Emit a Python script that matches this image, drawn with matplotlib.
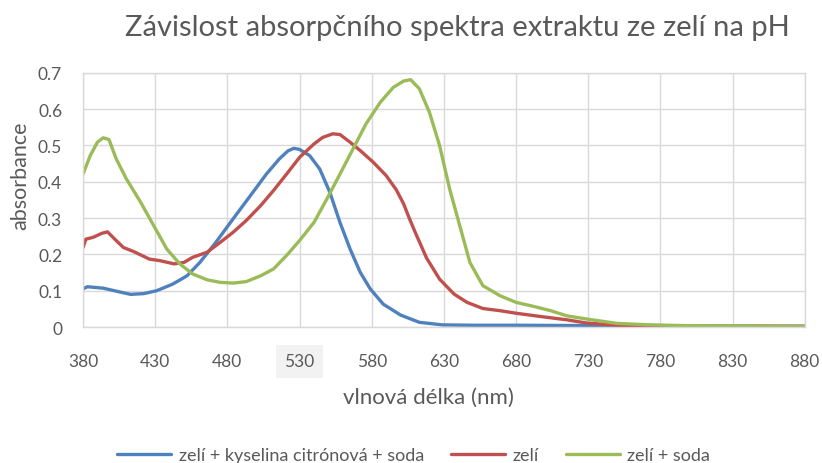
import numpy as np
import matplotlib
matplotlib.use('Agg')
import matplotlib.pyplot as plt

plt.rcParams['font.family'] = ['Lato', 'DejaVu Sans']

# spectra (wavelength nm, absorbance)
wl_blue = [380, 383, 394, 405, 413, 422, 431, 442, 452, 461, 472, 484, 496, 507, 516,
           522, 526, 530, 537, 544, 551, 558, 565, 572, 579, 588, 600, 613, 629, 650,
           680, 730, 780, 830, 880]
abs_blue = [0.105, 0.111, 0.107, 0.097, 0.090, 0.092, 0.100, 0.118, 0.141, 0.178, 0.233,
            0.298, 0.362, 0.421, 0.463, 0.485, 0.492, 0.489, 0.472, 0.435, 0.371, 0.288,
            0.215, 0.151, 0.105, 0.063, 0.033, 0.013, 0.006, 0.005, 0.005, 0.004, 0.002,
            0.002, 0.002]

wl_red = [380, 382, 387, 393, 397, 403, 408, 415, 426, 433, 443, 450, 456, 466, 475, 484,
          493, 503, 512, 521, 530, 540, 546, 553, 558, 565, 572, 581, 590, 597, 602, 606,
          610, 618, 627, 637, 646, 657, 669, 680, 697, 715, 729, 750, 800, 880]
abs_red = [0.219, 0.242, 0.247, 0.258, 0.262, 0.238, 0.219, 0.208, 0.187, 0.183, 0.174,
           0.178, 0.192, 0.206, 0.233, 0.261, 0.293, 0.334, 0.376, 0.421, 0.467, 0.504,
           0.522, 0.532, 0.530, 0.509, 0.486, 0.454, 0.417, 0.378, 0.340, 0.300, 0.262,
           0.190, 0.132, 0.091, 0.068, 0.051, 0.045, 0.038, 0.029, 0.020, 0.011, 0.005,
           0.003, 0.002]

wl_green = [380, 385, 390, 394, 398, 403, 410, 420, 429, 438, 447, 456, 466, 475, 484, 493,
            503, 512, 521, 530, 540, 549, 558, 567, 576, 586, 595, 602, 607, 613, 620, 627,
            634, 641, 648, 657, 669, 680, 692, 704, 715, 729, 750, 773, 796, 840, 880]
abs_green = [0.421, 0.472, 0.509, 0.521, 0.516, 0.463, 0.408, 0.343, 0.279, 0.215, 0.174,
             0.146, 0.130, 0.123, 0.121, 0.125, 0.141, 0.160, 0.197, 0.238, 0.288, 0.353,
             0.421, 0.490, 0.559, 0.619, 0.660, 0.677, 0.681, 0.656, 0.591, 0.500, 0.380,
             0.279, 0.178, 0.114, 0.086, 0.068, 0.057, 0.045, 0.031, 0.022, 0.010, 0.006,
             0.004, 0.003, 0.002]

series_names = ['zelí + kyselina citrónová + soda', 'zelí', 'zelí + soda']
series_colors = ['#4F81BD', '#C0504D', '#9BBB59']

x_ticks = list(range(380, 881, 50))
y_ticks = [0, 0.1, 0.2, 0.3, 0.4, 0.5, 0.6, 0.7]
y_labels = ['0', '0.1', '0.2', '0.3', '0.4', '0.5', '0.6', '0.7']

text_col = '#595959'
grid_col = '#D9D9D9'

fig = plt.figure(figsize=(8.22, 4.64), dpi=100)
ax = fig.add_axes([0.101, 0.293, 0.878, 0.548])

for wl, ab, name, col in zip([wl_blue, wl_red, wl_green],
                             [abs_blue, abs_red, abs_green],
                             series_names, series_colors):
    ax.plot(wl, ab, color=col, lw=2.4, label=name, solid_capstyle='round')

ax.set_xlim(380, 880)
ax.set_ylim(0, 0.7)
ax.set_xticks(x_ticks)
ax.set_yticks(y_ticks)
ax.set_yticklabels(y_labels)
ax.grid(True, color=grid_col, lw=1.0)
ax.set_axisbelow(True)
for s in ax.spines.values():
    s.set_color(grid_col)
    s.set_linewidth(1.0)
ax.tick_params(length=0, labelsize=12.5, labelcolor=text_col)
ax.tick_params(axis='x', pad=19)
ax.tick_params(axis='y', pad=15)

# highlighted 530 label
for lbl in ax.get_xticklabels():
    if lbl.get_text() == '530':
        lbl.set_bbox(dict(facecolor='#F2F2F2', edgecolor='none', pad=6))

ax.set_xlabel('vlnová délka (nm)', fontsize=16, color=text_col)
ax.xaxis.set_label_coords(0.479, -0.235)
ax.set_ylabel('absorbance', fontsize=15.5, color=text_col)
ax.yaxis.set_label_coords(-0.073, 0.60)
fig.text(0.557, 0.94, 'Závislost absorpčního spektra extraktu ze zelí na pH',
         fontsize=21, color=text_col, ha='center', va='center')

fig.legend(loc='lower center', bbox_to_anchor=(0.503, -0.035), ncol=3, frameon=False,
           fontsize=13, labelcolor=text_col, handlelength=3.0, handletextpad=0.4,
           columnspacing=1.5)

fig.savefig('out.png', dpi=100)
